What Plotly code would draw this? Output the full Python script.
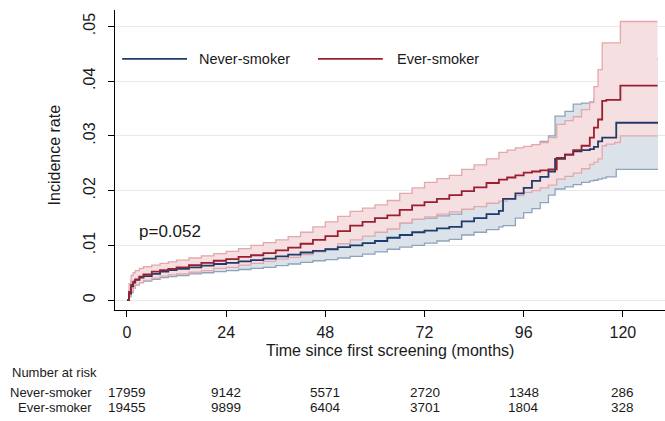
import plotly.graph_objects as go

# ---------------- data ----------------
t_ever = [0, 0.5, 1, 1.5, 2, 3, 4, 6, 8, 10, 12, 15, 18, 21, 24, 27, 30, 33, 36, 39, 42, 45, 48,
          51, 54, 57, 60, 63, 66, 69, 72, 75, 78, 81, 84, 87, 90, 92, 94, 96, 98, 100, 102, 104,
          106, 108, 110, 112, 113, 114, 115, 116, 118, 119.4, 128.4]
ever_est = [0, 0.0015, 0.0028, 0.0034, 0.0038, 0.0043, 0.0047, 0.0052, 0.0055, 0.0057, 0.0060,
            0.0064, 0.0068, 0.0072, 0.0075, 0.0079, 0.0082, 0.0086, 0.0091, 0.0096, 0.0103, 0.0110,
            0.0117, 0.0126, 0.0136, 0.0143, 0.0150, 0.0155, 0.0165, 0.0173, 0.0179, 0.0185, 0.0192,
            0.0199, 0.0206, 0.0214, 0.0220, 0.0224, 0.0228, 0.0233, 0.0235, 0.0237, 0.0239, 0.0260,
            0.0266, 0.0274, 0.0282, 0.0297, 0.0315, 0.0330, 0.0364, 0.0366, 0.0366, 0.0392, 0.0392]
ever_hi = [0, 0.0030, 0.0045, 0.0050, 0.0054, 0.0058, 0.0061, 0.0064, 0.0067, 0.0070, 0.0073,
           0.0077, 0.0081, 0.0085, 0.0089, 0.0094, 0.0100, 0.0105, 0.0110, 0.0116, 0.0124, 0.0134,
           0.0143, 0.0153, 0.0162, 0.0168, 0.0174, 0.0182, 0.0195, 0.0205, 0.0215, 0.0222, 0.0228,
           0.0239, 0.0247, 0.0258, 0.0270, 0.0274, 0.0278, 0.0281, 0.0284, 0.0288, 0.0297, 0.0321,
           0.0328, 0.0335, 0.0348, 0.0361, 0.0390, 0.0421, 0.0470, 0.0470, 0.0470, 0.0509, 0.0509]
ever_lo = [0, 0.0008, 0.0015, 0.0022, 0.0028, 0.0032, 0.0036, 0.0040, 0.0044, 0.0046, 0.0048,
           0.0051, 0.0054, 0.0058, 0.0060, 0.0064, 0.0067, 0.0071, 0.0075, 0.0078, 0.0083, 0.0088,
           0.0094, 0.0103, 0.0110, 0.0117, 0.0124, 0.0130, 0.0141, 0.0148, 0.0152, 0.0157, 0.0161,
           0.0166, 0.0171, 0.0177, 0.0181, 0.0185, 0.0191, 0.0197, 0.0200, 0.0205, 0.0210, 0.0221,
           0.0226, 0.0232, 0.0240, 0.0248, 0.0252, 0.0258, 0.0282, 0.0285, 0.0288, 0.0300, 0.0300]

t_never = [0, 0.5, 1, 1.5, 2, 3, 4, 6, 8, 10, 12, 15, 18, 21, 24, 27, 30, 33, 36, 39, 42, 45, 48,
           51, 54, 57, 60, 63, 66, 69, 72, 75, 78, 81, 84, 87, 90, 91, 94, 96, 98, 100, 102, 103.6,
           106, 108, 110, 112, 113, 114, 115, 116, 118.4, 128.5]
never_est = [0, 0.0012, 0.0025, 0.0032, 0.0037, 0.0041, 0.0044, 0.0048, 0.0052, 0.0055, 0.0057,
             0.0060, 0.0063, 0.0066, 0.0068, 0.0071, 0.0073, 0.0076, 0.0080, 0.0083, 0.0087, 0.0090,
             0.0093, 0.0097, 0.0100, 0.0104, 0.0108, 0.0114, 0.0119, 0.0124, 0.0127, 0.0131, 0.0134,
             0.0144, 0.0150, 0.0157, 0.0163, 0.0185, 0.0195, 0.0205, 0.0218, 0.0225, 0.0235, 0.0258,
             0.0266, 0.0272, 0.0274, 0.0276, 0.0280, 0.0290, 0.0297, 0.0297, 0.0324, 0.0324]
never_hi = [0, 0.0018, 0.0036, 0.0042, 0.0046, 0.0050, 0.0053, 0.0058, 0.0063, 0.0067, 0.0069,
            0.0072, 0.0076, 0.0080, 0.0082, 0.0086, 0.0088, 0.0092, 0.0097, 0.0100, 0.0105, 0.0108,
            0.0112, 0.0117, 0.0120, 0.0124, 0.0128, 0.0135, 0.0141, 0.0148, 0.0150, 0.0154, 0.0157,
            0.0169, 0.0176, 0.0185, 0.0192, 0.0234, 0.0245, 0.0265, 0.0282, 0.0290, 0.0300, 0.0336,
            0.0345, 0.0358, 0.0360, 0.0362, 0.0368, 0.0378, 0.0390, 0.0395, 0.0440, 0.0440]
never_lo = [0, 0.0006, 0.0014, 0.0022, 0.0028, 0.0032, 0.0035, 0.0038, 0.0041, 0.0043, 0.0045,
            0.0048, 0.0050, 0.0052, 0.0054, 0.0056, 0.0058, 0.0060, 0.0063, 0.0066, 0.0069, 0.0072,
            0.0074, 0.0077, 0.0080, 0.0084, 0.0088, 0.0093, 0.0097, 0.0100, 0.0104, 0.0108, 0.0111,
            0.0119, 0.0124, 0.0129, 0.0134, 0.0136, 0.0150, 0.0160, 0.0167, 0.0178, 0.0192, 0.0203,
            0.0207, 0.0211, 0.0215, 0.0218, 0.0219, 0.0221, 0.0223, 0.0225, 0.0239, 0.0239]

x_ticks = [0, 24, 48, 72, 96, 120]
y_ticks = [0, 0.01, 0.02, 0.03, 0.04, 0.05]
y_tick_labels = ["0", ".01", ".02", ".03", ".04", ".05"]

risk_times = [0, 24, 48, 72, 96, 120]
risk_never = [17959, 9142, 5571, 2720, 1348, 286]
risk_ever = [19455, 9899, 6404, 3701, 1804, 328]

groups = ["Never-smoker", "Ever-smoker"]
p_text = "p=0.052"

# ---------------- styles ----------------
FONT = "Liberation Sans, Arial, sans-serif"
TXT = "#1a1a1a"
BLUE = "#1d3c6c"
RED = "#9a1f30"
BLUE_CI = "#8fa3bb"
RED_CI = "#e3a8ab"
BLUE_FILL = "#dbe2ea"
RED_FILL = "#f5dfe0"

fig = go.Figure()

# never-smoker CI band
fig.add_trace(go.Scatter(x=t_never, y=never_lo, mode="lines", line=dict(color=BLUE_CI, width=1.3, shape="hv"),
                         showlegend=False, hoverinfo="skip"))
fig.add_trace(go.Scatter(x=t_never, y=never_hi, mode="lines", line=dict(color=BLUE_CI, width=1.3, shape="hv"),
                         fill="tonexty", fillcolor=BLUE_FILL, showlegend=False, hoverinfo="skip"))
# ever-smoker CI band
fig.add_trace(go.Scatter(x=t_ever, y=ever_lo, mode="lines", line=dict(color=RED_CI, width=1.3, shape="hv"),
                         showlegend=False, hoverinfo="skip"))
fig.add_trace(go.Scatter(x=t_ever, y=ever_hi, mode="lines", line=dict(color=RED_CI, width=1.3, shape="hv"),
                         fill="tonexty", fillcolor=RED_FILL, showlegend=False, hoverinfo="skip"))
# estimates
fig.add_trace(go.Scatter(x=t_never, y=never_est, mode="lines", name=groups[0],
                         line=dict(color=BLUE, width=1.8, shape="hv"), showlegend=False))
fig.add_trace(go.Scatter(x=t_ever, y=ever_est, mode="lines", name=groups[1],
                         line=dict(color=RED, width=1.8, shape="hv"), showlegend=False))

annotations = []
shapes = []

# custom legend (inside plot area, paper coords)
leg_y = 0.837
for (x0, x1, tx, col, name) in [(0.013, 0.131, 0.149, BLUE, groups[0]), (0.369, 0.487, 0.509, RED, groups[1])]:
    shapes.append(dict(type="line", xref="paper", yref="paper", x0=x0, x1=x1, y0=leg_y, y1=leg_y,
                       line=dict(color=col, width=1.6)))
    annotations.append(dict(xref="paper", yref="paper", x=tx, y=leg_y, text=name, showarrow=False,
                            xanchor="left", yanchor="middle", font=dict(size=14.5, color=TXT, family=FONT)))

# p value
annotations.append(dict(xref="x", yref="y", x=2.4, y=0.0125, text=p_text, showarrow=False,
                        xanchor="left", yanchor="middle", font=dict(size=17, color=TXT, family=FONT)))

# axis titles
annotations.append(dict(xref="paper", yref="paper", x=0.5, y=-0.135, text="Time since first screening (months)",
                        showarrow=False, xanchor="center", yanchor="middle", font=dict(size=16, color=TXT, family=FONT)))
annotations.append(dict(xref="paper", yref="paper", x=-0.11, y=0.517, text="Incidence rate", textangle=-90,
                        showarrow=False, xanchor="center", yanchor="middle", font=dict(size=16, color=TXT, family=FONT)))

# number at risk table
annotations.append(dict(xref="paper", yref="paper", x=-0.191, y=-0.207, text="Number at risk", showarrow=False,
                        xanchor="left", yanchor="middle", font=dict(size=13, color=TXT, family=FONT)))
for row_y, name, vals in [(-0.275, groups[0], risk_never), (-0.325, groups[1], risk_ever)]:
    annotations.append(dict(xref="paper", yref="paper", x=-0.038, y=row_y, text=name, showarrow=False,
                            xanchor="right", yanchor="middle", font=dict(size=13, color=TXT, family=FONT)))
    for t, v in zip(risk_times, vals):
        annotations.append(dict(xref="x", yref="paper", x=t, y=row_y, text=str(v), showarrow=False,
                                xanchor="center", yanchor="middle", font=dict(size=13.5, color=TXT, family=FONT)))

fig.update_layout(
    width=665, height=421,
    margin=dict(l=115, r=0, t=10, b=111),
    paper_bgcolor="white", plot_bgcolor="white",
    font=dict(family=FONT, color=TXT, size=16),
    showlegend=False,
    annotations=annotations, shapes=shapes,
    xaxis=dict(range=[-2.9, 130.2], tickvals=x_ticks, ticks="outside", ticklen=6, tickwidth=1.3,
               tickcolor="black", showline=True, linecolor="black", linewidth=1.3, showgrid=False,
               zeroline=False, tickfont=dict(size=16, color=TXT), ticklabelstandoff=2),
    yaxis=dict(range=[-0.0018, 0.053], tickvals=y_ticks, ticktext=y_tick_labels, tickangle=-90,
               ticks="outside", ticklen=6, tickwidth=1.3, tickcolor="black", showline=True,
               linecolor="black", linewidth=1.3, showgrid=True, gridcolor="#e9e9e9", gridwidth=1,
               zeroline=False, tickfont=dict(size=16, color=TXT), ticklabelstandoff=6),
)

fig.write_html("out.html", config={"displayModeBar": False},
               post_script="document.body.style.margin='0';document.body.style.overflow='hidden';")
